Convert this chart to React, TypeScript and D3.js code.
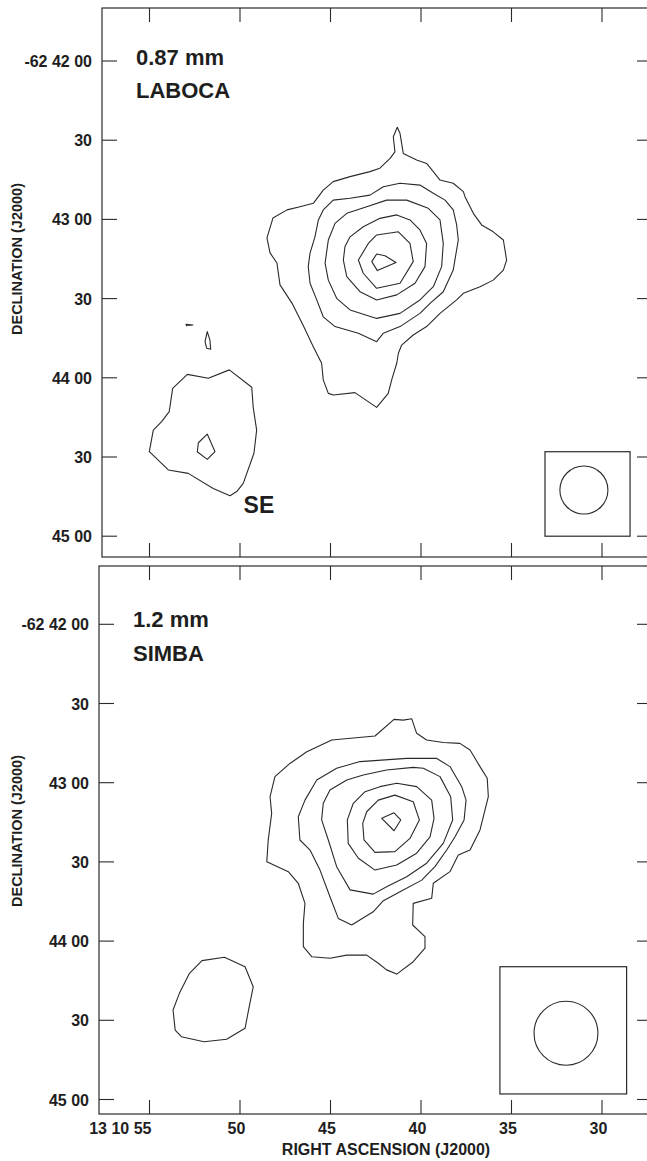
import React from "react";
import * as d3 from "d3";

// RA in seconds of 13h10m, Dec in arcsec south of -62 42 00
const raTicks = [55, 50, 45, 40, 35, 30];
const raLabels = ["13 10 55", "50", "45", "40", "35", "30"];
const decTicks = [0, 30, 60, 90, 120, 150, 180];
const decLabels = ["-62 42 00", "30", "43 00", "30", "44 00", "30", "45 00"];

type Pt = [number, number];

const labocaOuter: Pt[] = [
  [41.31, 25.1], [41.16, 27.4], [41.07, 31.2], [40.98, 35.0], [40.24, 37.5], [39.69, 38.8],
  [39.32, 41.9], [38.95, 45.1], [38.22, 46.3], [37.66, 49.5], [37.57, 51.4], [37.11, 57.7],
  [36.65, 62.1], [36.01, 64.7], [35.45, 67.8], [35.27, 75.4], [35.45, 79.2], [36.01, 83.0],
  [36.74, 85.5], [37.66, 88.0], [38.03, 90.5], [38.95, 95.6], [39.69, 100.6], [40.43, 103.8],
  [41.07, 107.6], [41.25, 110.7], [41.34, 114.5], [41.62, 120.8], [41.81, 125.9], [42.45, 131.2],
  [43.65, 125.6], [44.85, 126.5], [45.12, 125.9], [45.4, 120.8], [45.49, 114.5], [45.95, 108.2],
  [46.52, 100.0], [47.13, 91.7], [47.79, 84.8], [47.96, 76.5], [48.34, 72.7], [48.51, 67.0],
  [48.18, 59.5], [47.4, 56.4], [46.69, 55.2], [45.95, 53.9], [45.4, 48.9], [44.85, 45.7],
  [43.92, 43.8], [42.82, 41.9], [42.27, 40.6], [41.71, 36.9], [41.44, 34.4], [41.53, 28.7],
];
const labocaC2: Pt[] = [
  [40.06, 47.0], [39.32, 50.1], [38.67, 52.7], [38.22, 56.4], [38.03, 62.1], [37.94, 67.8],
  [38.22, 79.2], [38.77, 87.4], [39.5, 91.8], [40.06, 95.6], [41.16, 100.6], [42.08, 103.1],
  [42.45, 106.3], [43.46, 103.1], [44.75, 100.6], [45.4, 96.9], [45.76, 90.5], [46.13, 84.2],
  [46.23, 77.9], [46.13, 72.8], [45.86, 66.6], [45.67, 60.2], [45.4, 56.4], [44.85, 52.7],
  [43.92, 52.0], [42.82, 50.8], [42.08, 47.6], [41.16, 46.3],
];
const labocaC3: Pt[] = [
  [40.79, 52.7], [39.6, 55.8], [38.95, 60.2], [38.77, 69.1], [38.86, 77.9], [39.32, 85.5],
  [40.06, 90.5], [41.16, 95.6], [42.45, 97.5], [43.92, 94.3], [44.66, 89.9], [45.12, 83.0],
  [45.3, 76.6], [45.12, 67.8], [44.75, 61.5], [44.1, 57.7], [43.0, 55.2], [41.9, 52.7],
];
const labocaC4: Pt[] = [
  [41.34, 58.3], [40.61, 60.2], [40.06, 64.0], [39.69, 69.1], [39.78, 77.9], [40.33, 84.2],
  [41.34, 88.6], [42.45, 90.5], [43.37, 87.4], [44.1, 81.7], [44.29, 75.4], [44.2, 70.3],
  [43.92, 66.6], [43.19, 62.8], [42.27, 59.6],
];
const labocaC5: Pt[] = [
  [41.25, 64.7], [40.61, 69.1], [40.43, 76.0], [41.16, 84.2], [42.45, 86.1], [43.19, 80.4],
  [43.46, 75.4], [42.91, 69.1], [42.45, 65.9],
];
const labocaC6: Pt[] = [
  [42.45, 73.1], [41.99, 73.8], [41.38, 76.3], [42.41, 79.4], [42.72, 76.0],
];
const labocaSeBlob: Pt[] = [[52.98, 99.7], [52.6, 100.0], [52.95, 100.3]];
const labocaSeLoop: Pt[] = [
  [51.81, 102.5], [51.66, 105.7], [51.62, 109.2], [51.84, 108.8], [51.93, 106.3],
];
const labocaSeOuter: Pt[] = [
  [52.91, 118.7], [51.75, 120.2], [50.59, 117.0], [49.35, 123.6], [49.27, 131.2], [49.08, 139.8],
  [49.23, 148.6], [49.82, 160.0], [50.18, 163.1], [50.55, 164.7], [51.48, 161.9], [52.86, 156.2],
  [53.96, 154.9], [55.01, 148.0], [54.79, 139.8], [54.33, 136.6], [53.91, 132.8], [53.72, 124.0],
];
const labocaSeInner: Pt[] = [
  [51.81, 141.3], [51.38, 148.0], [51.81, 150.9], [52.36, 148.0], [52.3, 144.6],
];

const simbaOuter: Pt[] = [
  [41.49, 36.0], [40.98, 36.3], [40.51, 35.8], [40.24, 41.3], [39.69, 43.8], [38.77, 44.8],
  [37.85, 45.1], [37.29, 47.6], [36.74, 53.9], [36.34, 58.3], [36.28, 65.3], [36.74, 77.9],
  [37.29, 85.5], [37.94, 87.4], [38.4, 93.7], [39.32, 98.1], [39.41, 103.8], [40.43, 105.7],
  [40.46, 113.9], [39.78, 118.3], [39.78, 122.7], [40.43, 127.8], [41.34, 132.5], [41.9, 130.9],
  [42.36, 128.4], [43.0, 125.3], [44.1, 125.3], [45.03, 126.5], [46.04, 125.9], [46.5, 122.1],
  [46.5, 113.3], [46.41, 105.7], [46.78, 98.1], [47.33, 93.7], [48.52, 89.9], [48.44, 81.7],
  [48.25, 71.6], [48.34, 65.3], [48.07, 57.7], [47.24, 52.7], [46.31, 48.3], [44.93, 43.8],
  [42.54, 42.3],
];
const simbaC2: Pt[] = [
  [39.13, 50.8], [38.4, 53.9], [37.75, 61.5], [37.51, 66.6], [37.62, 74.1], [38.12, 80.5],
  [38.58, 85.5], [39.23, 91.8], [39.96, 96.9], [41.16, 101.3], [42.08, 104.7], [42.64, 108.9],
  [43.83, 113.9], [44.57, 111.4], [45.03, 103.2], [45.58, 93.1], [46.13, 85.5], [46.69, 81.7],
  [46.78, 72.9], [46.41, 66.6], [45.76, 59.0], [44.66, 54.5], [43.37, 52.0], [40.79, 50.8],
];
const simbaC3: Pt[] = [
  [40.43, 54.2], [39.87, 54.5], [38.95, 57.7], [38.36, 65.3], [38.25, 74.1], [38.77, 83.0],
  [39.69, 90.5], [40.79, 95.6], [41.9, 99.4], [42.64, 102.2], [43.92, 100.6], [44.66, 91.8],
  [45.12, 81.7], [45.49, 74.1], [45.4, 67.8], [45.03, 62.8], [44.1, 59.0], [43.19, 57.1],
  [41.9, 55.2],
];
const simbaC4: Pt[] = [
  [41.34, 60.2], [40.24, 61.5], [39.41, 66.6], [39.28, 73.5], [39.5, 80.5], [40.24, 86.7],
  [41.34, 91.2], [42.54, 93.1], [43.46, 88.6], [44.02, 83.0], [44.07, 74.1], [43.74, 67.8],
  [43.09, 63.4], [42.27, 61.5],
];
const simbaC5: Pt[] = [
  [41.44, 64.7], [40.43, 67.2], [40.09, 74.1], [40.61, 81.1], [41.44, 86.1], [42.54, 86.4],
  [43.15, 81.7], [43.22, 75.4], [43.0, 71.0], [42.36, 66.6],
];
const simbaC6: Pt[] = [[42.17, 73.5], [41.49, 71.4], [41.12, 74.1], [41.49, 78.2]];
const simbaSe: Pt[] = [
  [52.1, 127.4], [50.86, 126.1], [49.72, 129.7], [49.27, 137.3], [49.49, 144.8], [49.72, 153.0],
  [50.74, 157.2], [51.99, 158.1], [53.24, 156.2], [53.58, 153.7], [53.7, 146.1], [53.35, 139.8],
  [52.79, 132.2],
];

// beam FWHM in arcsec
const beamFwhm = [18.2, 24.2];

const labocaContours = [labocaOuter, labocaC2, labocaC3, labocaC4, labocaC5, labocaC6,
  labocaSeBlob, labocaSeLoop, labocaSeOuter, labocaSeInner];
const simbaContours = [simbaOuter, simbaC2, simbaC3, simbaC4, simbaC5, simbaC6, simbaSe];

const FONT = "'Liberation Sans', Arial, Helvetica, sans-serif";
const INK = "#1e1e1e";
const LINE = "#2a2a2a";

const x = d3.scaleLinear().domain([55, 30]).range([149.5, 602]);

type PanelCfg = {
  left: number; right: number; top: number; bottom: number; y0: number;
  contours: Pt[][]; title: string[]; titleX: number; titleY: number[];
  beam: number; box: { ra: [number, number]; dec: [number, number] }; beamAt: Pt;
  axisTitleY: number; showRA: boolean; labelEnd: number; extra?: { text: string; ra: number; dec: number };
};

const panels: PanelCfg[] = [
  {
    left: 102, right: 651, top: 8, bottom: 557, y0: 61,
    contours: labocaContours, title: ["0.87 mm", "LABOCA"], titleX: 136, titleY: [65, 98],
    beam: beamFwhm[0], box: { ra: [33.15, 28.45], dec: [148, 180] }, beamAt: [31.0, 162.5],
    axisTitleY: 259, showRA: false, labelEnd: 92,
    extra: { text: "SE", ra: 49.8, dec: 171.2 },
  },
  {
    left: 99, right: 651, top: 566, bottom: 1114, y0: 624.3,
    contours: simbaContours, title: ["1.2 mm", "SIMBA"], titleX: 133, titleY: [627, 661],
    beam: beamFwhm[1], box: { ra: [35.64, 28.64], dec: [129.7, 177.9] }, beamAt: [31.99, 154.9],
    axisTitleY: 831, showRA: true, labelEnd: 89,
  },
];

function Panel({ p }: { p: PanelCfg }) {
  const y = d3.scaleLinear().domain([0, 180]).range([p.y0, p.y0 + 180 * 2.64]);
  const line = d3.line<Pt>().x((d) => x(d[0])).y((d) => y(d[1])).curve(d3.curveLinearClosed);
  const tl = 14;
  const bx0 = x(p.box.ra[0]), bx1 = x(p.box.ra[1]);
  const by0 = y(p.box.dec[0]), by1 = y(p.box.dec[1]);
  const r = y(p.beam / 2) - y(0);
  return (
    <g>
      <rect x={p.left} y={p.top} width={p.right - p.left} height={p.bottom - p.top}
        fill="none" stroke={LINE} strokeWidth={1.2} />
      {raTicks.map((t) => (
        <g key={"ra" + t} stroke={LINE} strokeWidth={1.1}>
          <line x1={x(t)} x2={x(t)} y1={p.top} y2={p.top + tl} />
          <line x1={x(t)} x2={x(t)} y1={p.bottom} y2={p.bottom - tl} />
        </g>
      ))}
      {decTicks.map((t, i) => (
        <g key={"dec" + t}>
          <line x1={p.left} x2={p.left + 15} y1={y(t)} y2={y(t)} stroke={LINE} strokeWidth={1.1} />
          <line x1={p.right} x2={p.right - 14} y1={y(t)} y2={y(t)} stroke={LINE} strokeWidth={1.1} />
          <text x={p.labelEnd} y={y(t) + 6} textAnchor="end" fontFamily={FONT}
            fontWeight="bold" fontSize={16} fill={INK}>{decLabels[i]}</text>
        </g>
      ))}
      {p.showRA && raTicks.map((t, i) => (
        <text key={"ral" + t} x={i === 0 ? x(t) + 2 : x(t) - 3.5} y={p.bottom + 20}
          textAnchor={i === 0 ? "end" : "middle"} fontFamily={FONT} fontWeight="bold"
          fontSize={16} fill={INK}>{raLabels[i]}</text>
      ))}
      <text transform={`translate(22,${p.axisTitleY}) rotate(-90)`} textAnchor="middle"
        fontFamily={FONT} fontWeight="bold" fontSize={14.5} fill={INK}>DECLINATION (J2000)</text>
      {p.title.map((s, i) => (
        <text key={s} x={p.titleX} y={p.titleY[i]} fontFamily={FONT} fontWeight="bold"
          fontSize={22} fill={INK}>{s}</text>
      ))}
      {p.extra && (
        <text x={x(p.extra.ra)} y={y(p.extra.dec)} fontFamily={FONT} fontWeight="bold"
          fontSize={23} fill={INK}>{p.extra.text}</text>
      )}
      {p.contours.map((c, i) => (
        <path key={i} d={line(c) ?? ""} fill="none" stroke={LINE} strokeWidth={1.1}
          strokeLinejoin="round" />
      ))}
      <rect x={bx0} y={by0} width={bx1 - bx0} height={by1 - by0} fill="none" stroke={LINE}
        strokeWidth={1.2} />
      <circle cx={x(p.beamAt[0])} cy={y(p.beamAt[1])} r={r} fill="none" stroke={LINE}
        strokeWidth={1.1} />
    </g>
  );
}

export default function App() {
  return (
    <svg width={647} height={1161} style={{ position: "absolute", left: 0, top: 0 }}
      viewBox="0 0 647 1161">
      <rect width={647} height={1161} fill="#fff" />
      {panels.map((p, i) => <Panel key={i} p={p} />)}
      <text x={386} y={1155} textAnchor="middle" fontFamily={FONT} fontWeight="bold"
        fontSize={16} fill={INK}>RIGHT ASCENSION (J2000)</text>
    </svg>
  );
}
